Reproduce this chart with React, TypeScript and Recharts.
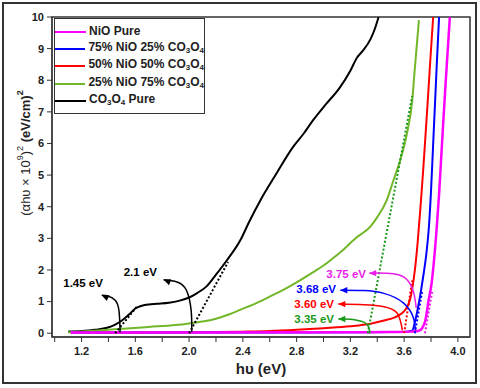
import React from "react";
import { LineChart, Line, XAxis, YAxis, ReferenceArea, ReferenceDot } from "recharts";

// photon energy hv (eV) and (ahv x 10^9)^2
const nioPureE = [1.12, 2.0, 2.8, 3.2, 3.5, 3.65, 3.71, 3.733, 3.758, 3.782, 3.805, 3.82, 3.84, 3.86, 3.875, 3.89, 3.91, 3.925, 3.94];
const nioPureA = [0.02, 0.02, 0.03, 0.03, 0.04, 0.05, 0.08, 0.15, 0.41, 1.04, 1.6, 2.2, 3.2, 4.4, 5.5, 6.6, 8.0, 9.0, 10.0];

const nio75E = [1.12, 2.4, 3.2, 3.5, 3.62, 3.66, 3.683, 3.713, 3.745, 3.765, 3.785, 3.8, 3.815, 3.83, 3.845, 3.86];
const nio75A = [0.02, 0.02, 0.03, 0.04, 0.05, 0.08, 0.41, 1.04, 1.88, 2.5, 3.4, 4.5, 5.9, 7.3, 8.7, 10.0];

const nio50E = [1.12, 2.0, 2.4, 2.6, 2.8, 3.0, 3.2, 3.35, 3.45, 3.53, 3.58, 3.61, 3.63, 3.645, 3.66, 3.68, 3.7, 3.72, 3.74, 3.755, 3.775, 3.795, 3.816];
const nio50A = [0.02, 0.03, 0.05, 0.07, 0.11, 0.16, 0.22, 0.3, 0.4, 0.5, 0.62, 0.75, 0.9, 1.08, 1.4, 2.0, 2.85, 3.9, 5.05, 6.0, 7.3, 8.65, 10.0];

const nio25E = [1.1, 1.3, 1.5, 1.7, 1.9, 2.0, 2.1, 2.2, 2.3, 2.38, 2.5, 2.6, 2.7, 2.8, 2.9, 3.0, 3.07, 3.15, 3.22, 3.25, 3.3, 3.35, 3.4, 3.47, 3.52, 3.57, 3.62, 3.66, 3.68, 3.71];
const nio25A = [0.03, 0.08, 0.14, 0.2, 0.26, 0.31, 0.37, 0.46, 0.6, 0.74, 0.95, 1.16, 1.37, 1.61, 1.87, 2.14, 2.37, 2.65, 2.93, 3.04, 3.19, 3.38, 3.67, 4.2, 4.83, 5.46, 6.3, 7.35, 8.4, 9.9];

const co3o4PureE = [1.1, 1.2, 1.3, 1.39, 1.45, 1.5, 1.55, 1.6, 1.65, 1.7, 1.76, 1.85, 1.93, 2.0, 2.06, 2.13, 2.2, 2.28, 2.38, 2.45, 2.53, 2.65, 2.77, 2.85, 2.92, 3.02, 3.12, 3.2, 3.25, 3.29, 3.35, 3.385, 3.41];
const co3o4PureA = [0.05, 0.07, 0.11, 0.17, 0.27, 0.4, 0.58, 0.78, 0.87, 0.91, 0.93, 0.96, 1.03, 1.13, 1.27, 1.48, 1.85, 2.3, 2.93, 3.55, 4.2, 5.05, 5.87, 6.3, 6.72, 7.25, 7.76, 8.3, 8.72, 8.92, 9.3, 9.66, 10.0];

const seriesNames = ["NiO Pure", "75% NiO 25% CO3O4", "50% NiO 50% CO3O4", "25% NiO 75% CO3O4", "CO3O4 Pure"];

// Tauc extrapolations (start, end)
const tangentE = [[1.45, 1.62], [2.0, 2.29], [3.33, 3.66], [3.6, 3.66], [3.68, 3.735], [3.755, 3.81]];
const tangentA = [[0, 0.88], [0, 2.25], [0, 7.5], [0, 1.67], [0, 1.35], [0, 1.35]];

// curved arrows, tip first
const arrowE = [
  [1.35, 1.4, 1.45, 1.478, 1.487],
  [1.81, 1.91, 1.98, 2.015, 2.02],
  [3.11, 3.2, 3.3, 3.335, 3.348],
  [3.11, 3.3, 3.45, 3.549, 3.587],
  [3.125, 3.3, 3.45, 3.594, 3.668, 3.683],
  [3.34, 3.52, 3.62, 3.67, 3.69],
];
const arrowA = [
  [1.2, 1.17, 1.04, 0.72, 0.02],
  [1.69, 1.62, 1.36, 0.73, 0.04],
  [0.45, 0.44, 0.35, 0.2, 0.0],
  [0.92, 0.9, 0.84, 0.63, 0.09],
  [1.36, 1.35, 1.26, 0.96, 0.5, 0.09],
  [1.9, 1.88, 1.7, 1.3, 0.8],
];

const gapLabels = ["1.45 eV", "2.1 eV", "3.35 eV", "3.60 eV", "3.68 eV", "3.75 eV"];
const gapLabelE = [1.359, 1.761, 3.078, 3.078, 3.093, 3.316];
const gapLabelA = [1.59, 1.94, 0.45, 0.92, 1.39, 1.87];

const xTicks = [1.0, 1.2, 1.4, 1.6, 1.8, 2.0, 2.2, 2.4, 2.6, 2.8, 3.0, 3.2, 3.4, 3.6, 3.8, 4.0];
const xTickLabels = [1.2, 1.6, 2.0, 2.4, 2.8, 3.2, 3.6, 4.0];
const yTicks = [0, 1, 2, 3, 4, 5, 6, 7, 8, 9, 10];

const seriesColors = ["#ff00ff", "#0000ff", "#ff0000", "#72b62a", "#000000"];
const gapColors = ["#000000", "#000000", "#1a9a1a", "#ff0000", "#0000ff", "#e81ee8"];
const arrowTilt = [25, 20, 0, 0, 0, 0];
const font = "'Liberation Sans', Arial, sans-serif";

const zip = (xs: number[], ys: number[]) => xs.map((e, i) => ({ e, a: ys[i] }));

const series = [
  zip(nioPureE, nioPureA),
  zip(nio75E, nio75A),
  zip(nio50E, nio50A),
  zip(nio25E, nio25A),
  zip(co3o4PureE, co3o4PureA),
];

function renderName(name: string) {
  const parts = name.split("CO3O4");
  return parts.map((p, i) => (
    <React.Fragment key={i}>
      {p}
      {i < parts.length - 1 && (
        <>
          CO<sub style={{ fontSize: 8, verticalAlign: "-2px" }}>3</sub>O
          <sub style={{ fontSize: 8, verticalAlign: "-2px" }}>4</sub>
        </>
      )}
    </React.Fragment>
  ));
}

const arrowHead = (color: string, tilt: number) => (props: any) => {
  const { cx, cy, index } = props;
  if (index !== 0) return <g key={`n-${index}`} />;
  return (
    <path
      key="head"
      d={`M${cx},${cy} l7,-3.2 l0,6.4 z`}
      fill={color}
      transform={`rotate(${tilt} ${cx} ${cy})`}
    />
  );
};

export default function App() {
  const drawOrder = [4, 3, 2, 1, 0];
  return (
    <div style={{ position: "fixed", left: 0, top: 0, width: 480, height: 388, background: "#fff" }}>
      <div
        style={{
          position: "absolute",
          left: 2,
          top: 2,
          width: 475,
          height: 382,
          border: "2px solid #333",
          boxSizing: "border-box",
        }}
      />
      <LineChart width={480} height={388} margin={{ top: 17, right: 10, bottom: 11, left: 8 }} style={{ fontFamily: font }}>
        <XAxis
          dataKey="e"
          type="number"
          domain={[0.98, 4.09]}
          ticks={xTicks}
          allowDataOverflow
          height={40}
          tickSize={5}
          tickMargin={5}
          stroke="#333"
          tick={{ fontSize: 11, fontWeight: 700, fill: "#222" }}
          tickFormatter={(v: number) => (xTickLabels.some((t) => Math.abs(t - v) < 1e-6) ? v.toFixed(1) : "")}
          label={(p: any) => (
            <text
              x={p.viewBox.x + p.viewBox.width / 2}
              y={p.viewBox.y + 31}
              textAnchor="middle"
              dominantBaseline="central"
              fontSize={15}
              fontWeight={700}
              fill="#222"
            >
              hυ (eV)
            </text>
          )}
        />
        <YAxis
          type="number"
          domain={[-0.12, 10]}
          ticks={yTicks}
          allowDataOverflow
          width={44}
          tickSize={5}
          tickMargin={3}
          stroke="#333"
          tick={{ fontSize: 11, fontWeight: 700, fill: "#222" }}
          label={(p: any) => {
            const x = p.viewBox.x + 17;
            const y = p.viewBox.y + p.viewBox.height / 2 - 24;
            return (
              <text
                x={x}
                y={y}
                textAnchor="middle"
                dominantBaseline="central"
                fontSize={13}
                fill="#222"
                transform={`rotate(-90 ${x} ${y})`}
              >
                <tspan>(αhυ × 10</tspan>
                <tspan fontSize={9} dy={-5}>9</tspan>
                <tspan dy={5}>)</tspan>
                <tspan fontSize={9} dy={-5}>2</tspan>
                <tspan dy={5} fontWeight={700}> (eV/cm)</tspan>
                <tspan fontSize={9} dy={-5} fontWeight={700}>2</tspan>
              </text>
            );
          }}
        />
        {drawOrder.map((i) => (
          <Line
            key={seriesNames[i]}
            data={series[i]}
            dataKey="a"
            name={seriesNames[i]}
            type="monotone"
            stroke={seriesColors[i]}
            strokeWidth={i === 0 ? 2.5 : 2}
            dot={false}
            isAnimationActive={false}
          />
        ))}
        {tangentE.map((xs, i) => (
          <Line
            key={`tan-${i}`}
            data={zip(xs, tangentA[i])}
            dataKey="a"
            type="linear"
            stroke={gapColors[i]}
            strokeWidth={2}
            strokeDasharray="2 2"
            dot={false}
            isAnimationActive={false}
          />
        ))}
        {arrowE.map((xs, i) => (
          <Line
            key={`arr-${i}`}
            data={zip(xs, arrowA[i])}
            dataKey="a"
            type="natural"
            stroke={gapColors[i]}
            strokeWidth={1.5}
            dot={arrowHead(gapColors[i], arrowTilt[i])}
            isAnimationActive={false}
          />
        ))}
        {gapLabels.map((t, i) => (
          <ReferenceDot
            key={t}
            x={gapLabelE[i]}
            y={gapLabelA[i]}
            r={0}
            shape={(p: any) => (
              <text
                x={p.cx}
                y={p.cy}
                textAnchor="end"
                dominantBaseline="central"
                fontSize={11.5}
                fontWeight={700}
                fill={gapColors[i]}
              >
                {t}
              </text>
            )}
          />
        ))}
        <ReferenceArea x1={0.98} x2={4.09} y1={-0.12} y2={10} fill="none" stroke="#333" strokeWidth={1.5} ifOverflow="visible" />
      </LineChart>
      <div
        style={{
          position: "absolute",
          left: 54,
          top: 18,
          width: 151,
          border: "1px solid #333",
          background: "#fff",
          boxSizing: "border-box",
          padding: "4px 0 3px 0",
          fontFamily: font,
          fontWeight: 700,
          fontSize: 12,
          color: "#222",
        }}
      >
        {seriesNames.map((n, i) => (
          <div key={n} style={{ display: "flex", alignItems: "center", height: 17.4, lineHeight: "17px" }}>
            <span style={{ display: "inline-block", width: 31, height: 2, background: seriesColors[i], marginRight: 3 }} />
            <span style={{ whiteSpace: "nowrap" }}>{renderName(n)}</span>
          </div>
        ))}
      </div>
    </div>
  );
}
